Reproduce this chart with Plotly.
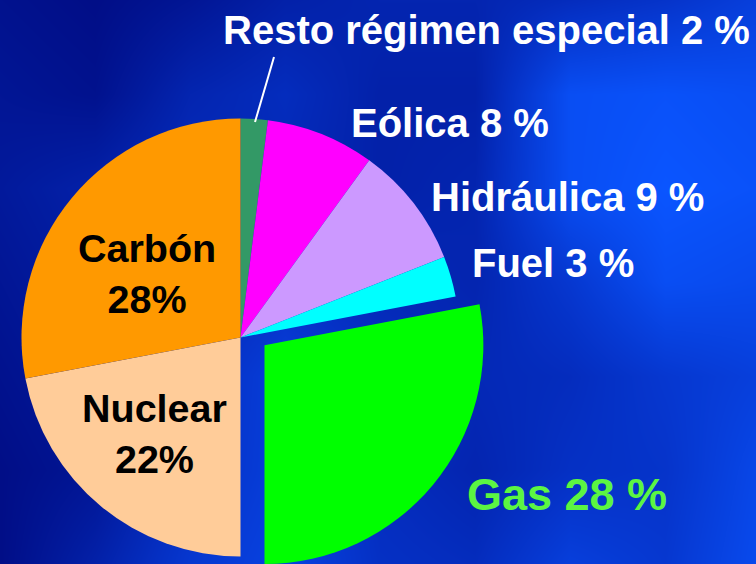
import plotly.graph_objects as go

# ---- data ----
labels = ["Resto régimen especial", "Eólica", "Hidráulica", "Fuel", "Gas", "Nuclear", "Carbón"]
values = [2, 8, 9, 3, 28, 22, 28]
colors = ["#339966", "#ff00ff", "#cc99ff", "#00ffff", "#00ff00", "#ffcc99", "#ff9900"]
pulled_label = "Gas"

# ---- background (decorative blue texture) ----
bg_x = [0, 95, 190, 285, 380, 475, 570, 665, 756]
bg_y = [0, 94, 188, 282, 376, 470, 564]
bg_z = [
    [0.10, 0.05, 0.15, 0.30, 0.35, 0.35, 0.45, 0.55, 0.70],
    [0.15, 0.10, 0.35, 0.45, 0.30, 0.30, 0.90, 0.95, 0.90],
    [0.20, 0.30, 0.45, 0.40, 0.30, 0.35, 0.90, 1.00, 0.95],
    [0.15, 0.25, 0.40, 0.50, 0.40, 0.35, 0.60, 0.90, 0.85],
    [0.10, 0.20, 0.45, 0.70, 0.50, 0.40, 0.45, 0.60, 0.70],
    [0.05, 0.15, 0.50, 0.70, 0.45, 0.35, 0.50, 0.55, 0.80],
    [0.05, 0.30, 0.60, 0.75, 0.50, 0.45, 0.70, 0.60, 0.85],
]

W, H = 756, 564
font_family = "Arial, Liberation Sans, sans-serif"

fig = go.Figure()
fig.add_trace(go.Heatmap(
    x=bg_x, y=bg_y, z=bg_z, zsmooth="best", showscale=False, hoverinfo="skip",
    zmin=0, zmax=1,
    colorscale=[[0, "#000a80"], [0.5, "#0530c4"], [1, "#0a55ff"]],
))

# main pie (pulled slice hidden)
cx, cy, r = 240.5, 337.5, 219
main_colors = [c if l != pulled_label else "rgba(0,0,0,0)" for l, c in zip(labels, colors)]
fig.add_trace(go.Pie(
    labels=labels, values=values, sort=False, direction="clockwise", rotation=0,
    marker=dict(colors=main_colors, line=dict(width=0)),
    textinfo="none", hoverinfo="label+percent", showlegend=False,
    domain=dict(x=[(cx - r) / W, (cx + r) / W], y=[(H - cy - r) / H, (H - cy + r) / H]),
))
# pulled slice, drawn as the same pie shifted
dx, dy = 24, 7.8
pull_colors = [c if l == pulled_label else "rgba(0,0,0,0)" for l, c in zip(labels, colors)]
fig.add_trace(go.Pie(
    labels=labels, values=values, sort=False, direction="clockwise", rotation=0,
    marker=dict(colors=pull_colors, line=dict(width=0)),
    textinfo="none", hoverinfo="label+percent", showlegend=False,
    domain=dict(x=[(cx + dx - r) / W, (cx + dx + r) / W],
                y=[max(0, (H - cy - dy - r) / H), (H - cy - dy + r) / H]),
))

# ---- labels ----
def ann(text, x, y, color, size):
    fig.add_annotation(text=text, x=x / W, y=1 - y / H, xref="paper", yref="paper",
                       xanchor="center", yanchor="middle", showarrow=False,
                       font=dict(family=font_family, size=size, color=color))

val = dict(zip(labels, values))
ann(f"<b>Resto régimen especial {val['Resto régimen especial']} %</b>", 486, 30, "white", 40)
ann(f"<b>Eólica {val['Eólica']} %</b>", 450, 123, "white", 40)
ann(f"<b>Hidráulica {val['Hidráulica']} %</b>", 567, 197, "white", 40)
ann(f"<b>Fuel {val['Fuel']} %</b>", 553, 263, "white", 40)
ann(f"<b>Gas {val['Gas']} %</b>", 567, 494, "#5cf542", 45)
ann(f"<b>Carbón<br>{val['Carbón']}%</b>", 147, 273, "black", 39.5)
ann(f"<b>Nuclear<br>{val['Nuclear']}%</b>", 154, 434, "black", 39.5)

fig.add_shape(type="line", xref="paper", yref="paper",
              x0=274 / W, y0=1 - 57 / H, x1=255 / W, y1=1 - 122 / H,
              line=dict(color="white", width=2))

fig.update_layout(
    width=W, height=H, margin=dict(l=0, r=0, t=0, b=0),
    paper_bgcolor="#0530c4", plot_bgcolor="#0530c4",
    xaxis=dict(visible=False, range=[0, W], domain=[0, 1], fixedrange=True),
    yaxis=dict(visible=False, range=[H, 0], domain=[0, 1], fixedrange=True),
    showlegend=False,
)
fig.write_html("out.html", config={"displayModeBar": False},
               post_script="document.body.style.margin='0';")
